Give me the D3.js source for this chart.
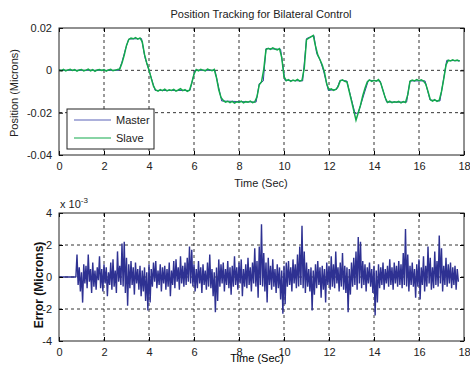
<!DOCTYPE html>
<html><head><meta charset="utf-8">
<script src="https://cdn.jsdelivr.net/npm/d3@7"></script>
<style>
body{margin:0;background:#fff;}
text{font-family:"Liberation Sans",Arial,sans-serif;}
</style></head>
<body><svg id="c" width="470" height="367"></svg>
<script>
// ---------- DATA ----------
const xTicks = [0,2,4,6,8,10,12,14,16,18];
const posTicks = [0.02,0,-0.02,-0.04];
const posTickLabels = ["0.02","0","-0.02","-0.04"];
const errTicks = [4,2,0,-2,-4];           // in units of 1e-3
const errTickLabels = ["4","2","0","-2","-4"];

// Master trajectory breakpoints (time s, position)
const masterT = [0,2.67,2.8,2.95,3.1,3.67,3.82,4.0,4.27,5.82,6.04,6.93,7.23,8.76,8.9,9.08,9.2,9.85,10.04,10.83,11.0,11.33,11.45,11.6,11.75,11.97,12.34,12.49,12.79,13.16,13.3,13.75,14.27,14.56,15.45,15.6,16.27,16.49,16.93,17.23,17.82];
const masterV = [0,0,0.004,0.0099,0.0148,0.015,0.006,0,-0.0095,-0.0095,0,0,-0.0145,-0.015,-0.0063,-0.005,0.0103,0.0099,-0.0047,-0.005,0.015,0.0165,0.008,0.005,0,-0.0095,-0.009,-0.0047,-0.005,-0.0205,-0.02,-0.0047,-0.005,-0.015,-0.015,-0.005,-0.005,-0.014,-0.0145,0.0047,0.0045];

// Slave position sampled every 0.1 s from t = 0
const slaveStart = 0, slaveStep = 0.1;
const slaveV = [
 0.0003,-0.0002,0.0004,-0.0003,0.0002,0.0005,-0.0001,0.0003,-0.0004,0.0002,
 0.0004,-0.0003,0.0001,0.0006,-0.0002,0.0003,-0.0005,0.0002,0.0004,-0.0001,
 0.0003,-0.0004,0.0002,0.0005,-0.0002,0.0001,0.0004,0.0006,0.0035,0.0072,
 0.0118,0.0146,0.0152,0.0149,0.0155,0.0147,0.0153,0.0135,0.0075,0.0035,
 0.0002,-0.0038,-0.0075,-0.0093,-0.0098,-0.0091,-0.0096,-0.0089,-0.0097,-0.0092,
 -0.0095,-0.0090,-0.0098,-0.0093,-0.0087,-0.0096,-0.0091,-0.0099,-0.0094,-0.0060,
 -0.0018,0.0004,-0.0002,0.0005,0.0001,-0.0003,0.0006,0.0002,-0.0002,0.0004,
 -0.0035,-0.0092,-0.0128,-0.0142,-0.0150,-0.0146,-0.0153,-0.0147,-0.0155,-0.0149,
 -0.0152,-0.0146,-0.0154,-0.0148,-0.0151,-0.0145,-0.0153,-0.0149,-0.0125,-0.0068,
 -0.0055,0.0005,0.0098,0.0104,0.0099,0.0106,0.0101,0.0097,0.0103,0.0060,
 -0.0030,-0.0049,-0.0044,-0.0052,-0.0046,-0.0050,-0.0043,-0.0051,-0.0047,0.0010,
 0.0145,0.0152,0.0158,0.0165,0.0115,0.0073,0.0050,0.0025,-0.0010,-0.0065,
 -0.0092,-0.0088,-0.0095,-0.0090,-0.0078,-0.0050,-0.0045,-0.0052,-0.0055,-0.0100,
 -0.0145,-0.0190,-0.0235,-0.0200,-0.0165,-0.0120,-0.0085,-0.0055,-0.0045,-0.0052,
 -0.0047,-0.0051,-0.0044,-0.0060,-0.0095,-0.0130,-0.0152,-0.0146,-0.0153,-0.0149,
 -0.0151,-0.0147,-0.0154,-0.0148,-0.0152,-0.0115,-0.0052,-0.0046,-0.0050,-0.0044,
 -0.0049,-0.0045,-0.0051,-0.0065,-0.0100,-0.0138,-0.0145,-0.0139,-0.0147,-0.0141,
 -0.0100,-0.0040,0.0025,0.0048,0.0044,0.0050,0.0045,0.0049,0.0043
];

// Error (units of 1e-3 microns): zero until 0.75 s, then sampled every 0.05 s from 0.8 s
const errFlatT = [0,0.75];
const errFlatV = [0,0];
const errStart = 0.8, errStep = 0.05;
const errV = [
 1.4,-0.5,0.6,-0.9,0.3,-1.6,0.8,-0.4,0.7,-0.7,1.4,-0.3,0.5,-1.0,0.9,-0.6,0.4,-0.8,0.6,-0.2,
 1.3,-0.7,0.5,-0.9,0.8,-0.4,0.6,-1.2,0.3,-0.5,0.9,-0.8,1.1,-0.6,0.4,-1.0,1.6,-0.3,0.7,-0.5,
 2.1,-0.6,2.2,-1.0,1.2,-1.8,0.8,-0.7,1.0,-0.5,0.6,-1.1,0.9,-0.4,0.5,-0.8,0.7,-1.2,0.4,-0.9,
 0.6,-1.5,0.3,-2.1,0.8,-1.6,0.5,-0.6,0.9,-0.3,1.0,-0.7,0.4,-0.5,0.8,-0.9,0.6,-0.4,0.7,-0.8,
 0.5,-0.6,0.9,-1.2,0.4,-0.5,1.0,-0.7,1.1,-0.3,0.6,-0.8,1.3,-0.4,0.7,-0.6,0.9,-0.5,1.2,-0.3,
 1.9,-0.4,1.7,-0.6,0.8,-0.9,0.5,-0.7,1.0,-0.4,0.6,-1.0,0.8,-0.5,0.4,-0.8,0.9,-0.6,1.4,-0.7,
 0.5,-1.2,0.3,-2.2,0.6,-1.5,1.1,-0.6,0.8,-0.4,0.9,-0.9,0.5,-0.5,1.0,-0.7,0.6,-1.1,0.7,-0.6,
 1.3,-0.5,0.6,-0.8,0.9,-0.4,1.1,-1.2,0.5,-0.6,0.8,-0.7,1.2,-0.5,0.6,-0.9,0.9,-0.4,1.8,-0.6,
 1.0,-1.3,1.9,-0.5,3.3,-0.6,1.5,-0.9,0.9,-1.6,1.2,-0.5,0.7,-0.8,1.1,-0.6,0.5,-1.0,0.8,-0.7,
 0.6,-1.4,0.4,-2.3,0.7,-1.7,0.9,-0.6,1.0,-0.5,0.6,-0.9,1.1,-0.4,0.8,-0.7,1.4,-0.6,1.9,-0.5,
 3.2,-0.7,1.6,-1.0,0.9,-0.6,0.5,-0.9,0.6,-2.1,0.4,-1.1,0.8,-0.7,1.0,-0.5,0.6,-1.3,0.7,-0.8,
 0.5,-1.6,0.9,-0.5,0.7,-0.8,1.3,-0.6,0.8,-0.7,1.6,-0.4,0.6,-0.9,0.9,-0.6,1.5,-0.8,0.7,-1.0,
 0.6,-2.2,0.5,-1.1,0.9,-0.6,1.2,-0.5,1.6,-0.8,2.5,-0.4,2.2,-0.7,1.0,-0.5,0.8,-0.9,0.6,-0.4,
 0.9,-0.6,0.5,-1.0,0.7,-2.4,0.4,-1.6,0.8,-0.7,0.6,-0.5,0.9,-0.8,0.5,-0.4,0.7,-0.6,1.1,-0.5,
 0.6,-0.8,0.9,-0.4,0.7,-0.6,1.0,-0.5,0.8,-0.7,1.5,-0.5,3.0,-0.6,1.4,-0.9,0.7,-0.5,0.9,-0.6,
 0.5,-1.3,0.8,-0.6,1.1,-1.4,0.6,-0.5,1.3,-0.9,0.7,-0.6,1.9,-0.4,1.2,-0.8,0.6,-0.7,1.6,-0.5,
 1.0,-0.6,2.6,-0.4,1.8,-0.9,0.7,-0.5,1.2,-0.6,0.8,-0.4,0.9,-0.7,0.6,-0.5,0.7,-0.8,0.5,-0.3
];

const seriesNames = ["Master","Slave"];
const colors = {master:"#3b3fa6", slave:"#12aa4c", err:"#2e3192"};

// ---------- DRAW ----------
const svg = d3.select("#c");
const L = 59, R = 464;
const top1 = 28, bot1 = 155, top2 = 213, bot2 = 341;

const x = d3.scaleLinear().domain([0,18]).range([L,R]);
const y1 = d3.scaleLinear().domain([-0.04,0.02]).range([bot1,top1]);
const y2 = d3.scaleLinear().domain([-4,4]).range([bot2,top2]);

function panel(y, top, bot, yt, clipId) {
  const g = svg.append("g");
  g.selectAll(".gx").data(xTicks.filter(t=>t>0&&t<18)).join("line")
    .attr("x1",d=>x(d)).attr("x2",d=>x(d)).attr("y1",top).attr("y2",bot)
    .attr("stroke","#000").attr("stroke-width",0.8).attr("stroke-dasharray","3,3");
  const yd = y.domain();
  g.selectAll(".gy").data(yt.filter(t=>t>yd[0]&&t<yd[1])).join("line")
    .attr("x1",L).attr("x2",R).attr("y1",d=>y(d)).attr("y2",d=>y(d))
    .attr("stroke","#000").attr("stroke-width",0.8).attr("stroke-dasharray","3,3");
  svg.append("clipPath").attr("id",clipId).append("rect")
    .attr("x",L).attr("y",top).attr("width",R-L).attr("height",bot-top);
  return g;
}
function frame(y, top, bot, yt, ytl) {
  const g = svg.append("g");
  g.append("g").attr("transform",`translate(0,${bot})`)
    .call(d3.axisBottom(x).tickValues(xTicks).tickSize(-4).tickPadding(7).tickFormat(d3.format("d")))
    .call(a=>{a.select(".domain").remove(); a.selectAll("text").attr("font-size",11).attr("fill","#222");});
  g.append("g").attr("transform",`translate(0,${top})`)
    .call(d3.axisTop(x).tickValues(xTicks).tickSize(-4).tickFormat(""))
    .call(a=>a.select(".domain").remove());
  g.append("g").attr("transform",`translate(${L},0)`)
    .call(d3.axisLeft(y).tickValues(yt).tickSize(-4).tickPadding(7).tickFormat((d,i)=>ytl[i]))
    .call(a=>{a.select(".domain").remove(); a.selectAll("text").attr("font-size",11).attr("fill","#222");});
  g.append("g").attr("transform",`translate(${R},0)`)
    .call(d3.axisRight(y).tickValues(yt).tickSize(-4).tickFormat(""))
    .call(a=>a.select(".domain").remove());
  g.append("rect").attr("x",L).attr("y",top).attr("width",R-L).attr("height",bot-top)
    .attr("fill","none").attr("stroke","#222").attr("stroke-width",1);
}

// Panel 1
panel(y1, top1, bot1, posTicks, "clip1");
const line1 = d3.line().x(d=>x(d[0])).y(d=>y1(d[1]));
const masterPts = masterT.map((t,i)=>[t,masterV[i]]);
const slavePts = slaveV.map((v,i)=>[slaveStart+i*slaveStep, v]);
svg.append("path").datum(masterPts).attr("d",line1).attr("fill","none")
  .attr("stroke",colors.master).attr("stroke-width",1).attr("clip-path","url(#clip1)");
svg.append("path").datum(slavePts).attr("d",line1).attr("fill","none")
  .attr("stroke",colors.slave).attr("stroke-width",1.5).attr("clip-path","url(#clip1)");
frame(y1, top1, bot1, posTicks, posTickLabels);

// legend
const lg = svg.append("g");
lg.append("rect").attr("x",67).attr("y",109).attr("width",87).attr("height",40)
  .attr("fill","#fff").attr("stroke","#222").attr("stroke-width",1);
seriesNames.forEach((n,i)=>{
  const yy = 120 + i*18;
  lg.append("line").attr("x1",74).attr("x2",111).attr("y1",yy).attr("y2",yy)
    .attr("stroke", i===0?"#5a62b8":colors.slave).attr("stroke-width",1.2);
  lg.append("text").attr("x",116).attr("y",yy+4).attr("font-size",11).attr("fill","#222").text(n);
});

svg.append("text").attr("x",261).attr("y",18).attr("text-anchor","middle")
  .attr("font-size",11).attr("fill","#222").text("Position Tracking for Bilateral Control");
svg.append("text").attr("x",261).attr("y",187).attr("text-anchor","middle")
  .attr("font-size",11).attr("fill","#222").text("Time (Sec)");
svg.append("text").attr("transform","translate(18,93) rotate(-90)").attr("text-anchor","middle")
  .attr("font-size",11).attr("fill","#222").text("Position (Microns)");

// Panel 2
panel(y2, top2, bot2, errTicks, "clip2");
const line2 = d3.line().x(d=>x(d[0])).y(d=>y2(d[1]));
const errPts = errFlatT.map((t,i)=>[t,errFlatV[i]]).concat(errV.map((v,i)=>[errStart+i*errStep, v]));
svg.append("path").datum(errPts).attr("d",line2).attr("fill","none")
  .attr("stroke",colors.err).attr("stroke-width",1.4).attr("stroke-linejoin","bevel")
  .attr("clip-path","url(#clip2)");
frame(y2, top2, bot2, errTicks, errTickLabels);

const ex = svg.append("text").attr("x",60).attr("y",208).attr("font-size",11).attr("fill","#222");
ex.append("tspan").text("x 10");
ex.append("tspan").attr("dy",-5).attr("font-size",8).text("-3");
svg.append("text").attr("x",257).attr("y",362).attr("text-anchor","middle")
  .attr("font-size",11).attr("fill","#000").text("Time (Sec)");
svg.append("text").attr("transform","translate(43,285) rotate(-90)").attr("text-anchor","middle")
  .attr("font-size",12).attr("font-weight","bold").attr("fill","#111").text("Error (Microns)");
</script></body></html>
